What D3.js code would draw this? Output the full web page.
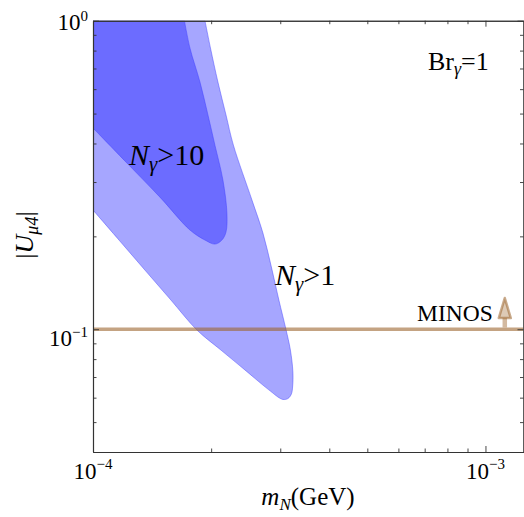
<!DOCTYPE html>
<html>
<head>
<meta charset="utf-8">
<script src="https://cdn.jsdelivr.net/npm/d3@7"></script>
<style>
    body { margin: 0; background: #fff; }
    svg { display: block; font-family: "Liberation Serif", "Times New Roman", serif; }
</style>
</head>
<body>
<div id="chart"></div>
<script>
// ticks
const xMajor = [1e-4, 1e-3];
const xMinor = [2e-4, 3e-4, 4e-4, 5e-4, 6e-4, 7e-4, 8e-4, 9e-4];
const yMajor = [0.1, 1];
const yMinor = [0.05, 0.06, 0.07, 0.08, 0.09, 0.2, 0.3, 0.4, 0.5, 0.6, 0.7, 0.8, 0.9];
const xTickExp = ["−4", "−3"];
const yTickExp = ["−1", "0"];

// N_gamma > 10 region boundary (from top edge round to left edge)
const darkM = [1.71e-4, 1.766e-4, 1.873e-4, 1.963e-4, 2.045e-4, 2.143e-4, 2.194e-4, 2.182e-4,
    2.13e-4, 2.045e-4, 1.929e-4, 1.766e-4, 1.481e-4, 1.22e-4, 1.0e-4];
const darkU = [1.0, 0.816, 0.633, 0.495, 0.395, 0.3045, 0.238, 0.2065,
    0.1945, 0.1888, 0.1945, 0.2097, 0.268, 0.3457, 0.449];

// N_gamma > 1 region boundary
const lightM = [1.929e-4, 1.992e-4, 2.081e-4, 2.182e-4, 2.279e-4, 2.541e-4, 2.71e-4, 2.848e-4,
    2.976e-4, 3.101e-4, 3.184e-4, 3.231e-4, 3.227e-4, 3.203e-4, 3.138e-4, 3.047e-4,
    2.959e-4, 2.873e-4, 2.71e-4, 2.438e-4, 2.118e-4, 1.84e-4, 1.58e-4, 1.356e-4,
    1.165e-4, 1.0e-4];
const lightU = [1.0, 0.816, 0.633, 0.495, 0.395, 0.2623, 0.205, 0.159,
    0.1243, 0.1001, 0.0856, 0.0727, 0.0655, 0.0617, 0.0596, 0.0592,
    0.0603, 0.0621, 0.0659, 0.0738, 0.0856, 0.0994, 0.1243, 0.1555,
    0.1945, 0.2434];

// MINOS bound
const minosU = 0.1;
const minosArrowM = 1.12e-3;
const minosArrowTop = 0.1262;
const minosArrowBase = 0.1087;

const W = 524, H = 517;
const margin = {top: 20.7, right: 0.5, bottom: 65, left: 93};
const width = W - margin.left - margin.right;
const height = H - margin.top - margin.bottom;

const svg = d3.select("#chart")
    .append("svg")
    .attr("width", W)
    .attr("height", H);

const g = svg.append("g")
    .attr("transform", "translate(" + margin.left + "," + margin.top + ")");

const x = d3.scaleLog().domain([1e-4, 1.25e-3]).range([0, width]);
const y = d3.scaleLog().domain([0.04, 1]).range([height, 0]);

g.append("clipPath").attr("id", "plot_clip")
    .append("rect").attr("width", width).attr("height", height);

const plot = g.append("g").attr("clip-path", "url(#plot_clip)");

const curve = d3.line()
    .x(d => x(d[0]))
    .y(d => y(d[1]))
    .curve(d3.curveCatmullRom.alpha(0.5));

function regionPath(ms, us) {
    const pts = ms.map((m, i) => [m, us[i]]);
    return "M" + x(1e-4) + "," + y(1) + "L" + curve(pts).slice(1) + "Z";
}

plot.append("path")
    .attr("d", regionPath(lightM, lightU))
    .attr("fill", "rgb(0,0,255)")
    .attr("fill-opacity", 0.35)
    .attr("stroke", "rgb(60,60,255)")
    .attr("stroke-opacity", 0.45)
    .attr("stroke-width", 1);

plot.append("path")
    .attr("d", regionPath(darkM, darkU))
    .attr("fill", "rgb(0,0,255)")
    .attr("fill-opacity", 0.35)
    .attr("stroke", "rgb(60,60,255)")
    .attr("stroke-opacity", 0.45)
    .attr("stroke-width", 1);

// MINOS line and arrow
const minosColor = "rgb(157,102,47)";
plot.append("line")
    .attr("x1", 0).attr("x2", width)
    .attr("y1", y(minosU)).attr("y2", y(minosU))
    .attr("stroke", minosColor)
    .attr("stroke-opacity", 0.6)
    .attr("stroke-width", 3.6);

plot.append("line")
    .attr("x1", x(minosArrowM)).attr("x2", x(minosArrowM))
    .attr("y1", y(minosU) - 1.8).attr("y2", y(minosArrowBase))
    .attr("stroke", minosColor)
    .attr("stroke-opacity", 0.45)
    .attr("stroke-width", 4.5);

const ax = x(minosArrowM);
plot.append("path")
    .attr("d", "M" + ax + "," + y(minosArrowTop) +
        "L" + (ax + 6) + "," + y(minosArrowBase) +
        "L" + (ax - 6) + "," + y(minosArrowBase) + "Z")
    .attr("fill", minosColor)
    .attr("fill-opacity", 0.35)
    .attr("stroke", minosColor)
    .attr("stroke-opacity", 0.55)
    .attr("stroke-width", 2.5)
    .attr("stroke-linejoin", "round");

// frame ticks (inward)
const frameColor = "#333";
function frameAxis(axis, transform) {
    const a = g.append("g").attr("transform", transform).call(axis);
    a.selectAll("path.domain").attr("stroke", frameColor).attr("stroke-width", 1.1);
    a.selectAll(".tick line").attr("stroke", frameColor).attr("stroke-width", 0.9);
    a.selectAll(".tick text").remove();
}
[[xMajor, 6], [xMinor, 3.5]].forEach(([vals, len]) => {
    frameAxis(d3.axisBottom(x).tickValues(vals).tickSize(-len).tickSizeOuter(0), `translate(0,${height})`);
    frameAxis(d3.axisTop(x).tickValues(vals).tickSize(-len).tickSizeOuter(0), "translate(0,0)");
});
[[yMajor, 6], [yMinor, 3.5]].forEach(([vals, len]) => {
    frameAxis(d3.axisLeft(y).tickValues(vals).tickSize(-len).tickSizeOuter(0), "translate(0,0)");
    frameAxis(d3.axisRight(y).tickValues(vals).tickSize(-len).tickSizeOuter(0), `translate(${width},0)`);
});

// tick labels
xMajor.forEach((v, i) => {
    const t = g.append("text")
        .attr("x", x(v))
        .attr("y", height + 27)
        .attr("text-anchor", "middle")
        .style("font-size", "23px");
    t.append("tspan").text("10");
    t.append("tspan").attr("dy", -10).style("font-size", "15px").text(xTickExp[i]);
});

yMajor.forEach((v, i) => {
    const t = g.append("text")
        .attr("x", -5)
        .attr("y", y(v) + (v === 1 ? 9 : 17))
        .attr("text-anchor", "end")
        .style("font-size", "23px");
    t.append("tspan").text("10");
    t.append("tspan").attr("dy", -9).style("font-size", "15px").text(yTickExp[i]);
});

// axis labels
const xl = svg.append("text")
    .attr("x", 308)
    .attr("y", 505)
    .attr("text-anchor", "middle")
    .style("font-size", "25px");
xl.append("tspan").style("font-style", "italic").text("m");
xl.append("tspan").attr("dy", 5).style("font-style", "italic").style("font-size", "17px").text("N");
xl.append("tspan").attr("dy", -5).text("(GeV)");

const yl = svg.append("text")
    .attr("transform", "translate(33,235) rotate(-90)")
    .attr("text-anchor", "middle")
    .style("font-size", "26px");
yl.append("tspan").text("|");
yl.append("tspan").style("font-style", "italic").text("U");
yl.append("tspan").attr("dy", 5).style("font-style", "italic").style("font-size", "18px").text("μ4");
yl.append("tspan").attr("dy", -5).text("|");

// annotations
function nLabel(px, py, num) {
    const t = svg.append("text")
        .attr("x", px).attr("y", py)
        .style("font-size", "30px");
    t.append("tspan").style("font-style", "italic").text("N");
    t.append("tspan").attr("dy", 6).style("font-style", "italic").style("font-size", "21px").text("γ");
    t.append("tspan").attr("dy", -6).text(">" + num);
}
nLabel(129, 165, "10");
nLabel(275, 285, "1");

const br = svg.append("text")
    .attr("x", 428).attr("y", 70)
    .style("font-size", "26px");
br.append("tspan").text("Br");
br.append("tspan").attr("dy", 5).style("font-style", "italic").style("font-size", "18px").text("γ");
br.append("tspan").attr("dy", -5).text("=1");

svg.append("text")
    .attr("x", 417).attr("y", 321)
    .style("font-size", "23.5px")
    .text("MINOS");
</script>
</body>
</html>
